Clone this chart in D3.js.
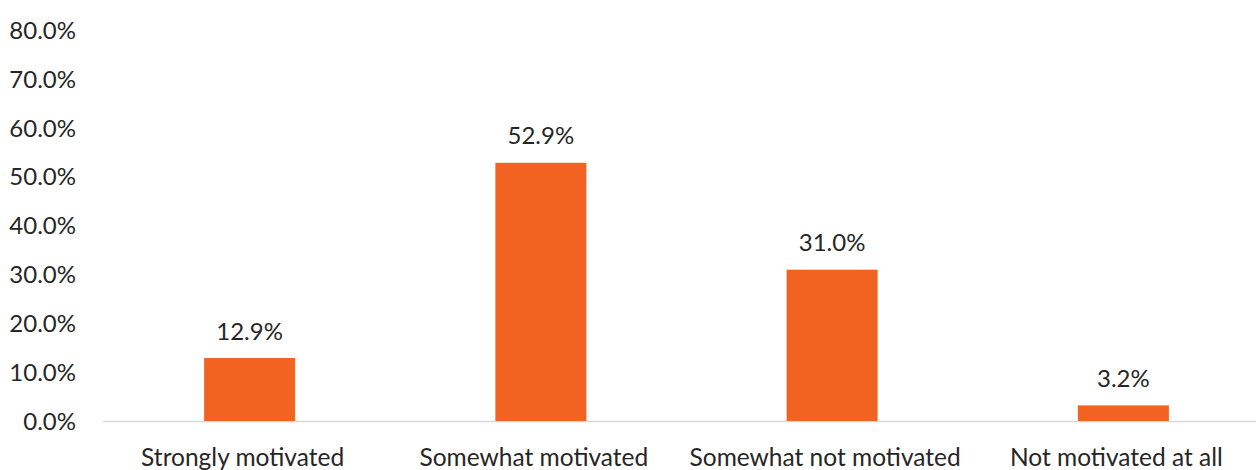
<!DOCTYPE html>
<html><head><meta charset="utf-8">
<script src="https://cdn.jsdelivr.net/npm/d3@7"></script>
<style>body{margin:0;background:#fff}svg{display:block}text{font-family:Lato,"Open Sans",sans-serif;fill:#262626;font-weight:400}</style>
</head><body><svg id="c" width="1256" height="470"></svg>
<script>
const categories = ["Strongly motivated","Somewhat motivated","Somewhat not motivated","Not motivated at all"];
const values = [12.9, 52.9, 31.0, 3.2];
const yTicks = [0,10,20,30,40,50,60,70,80];

const svg = d3.select("#c");
const y = d3.scaleLinear().domain([0,80]).range([421,30.5]);
const x = d3.scaleBand().domain(categories).range([104,1269]).paddingInner(0.6875).paddingOuter(0.34375);

svg.append("g").selectAll("text").data(yTicks).join("text")
  .attr("x",76).attr("y",d=>y(d)+8.5).attr("text-anchor","end")
  .style("font-size","24px").text(d=>d.toFixed(1)+"%");

svg.append("line").attr("x1",103).attr("x2",1256).attr("y1",421.5).attr("y2",421.5)
  .attr("stroke","#d9d9d9").attr("stroke-width",1.5);

svg.append("g").selectAll("rect").data(values).join("rect")
  .attr("x",(d,i)=>x(categories[i])).attr("width",x.bandwidth())
  .attr("y",d=>y(d)).attr("height",d=>y(0)-y(d)).attr("fill","#f26322");

svg.append("g").selectAll("text").data(values).join("text")
  .attr("x",(d,i)=>x(categories[i])+x.bandwidth()/2).attr("y",d=>y(d)-18.5)
  .attr("text-anchor","middle").style("font-size","24px").text(d=>d.toFixed(1)+"%");

svg.append("g").selectAll("text").data(categories).join("text")
  .attr("x",d=>x(d)+x.bandwidth()/2-7).attr("y",466)
  .attr("text-anchor","middle").style("font-size","24.5px").text(d=>d);
</script></body></html>
